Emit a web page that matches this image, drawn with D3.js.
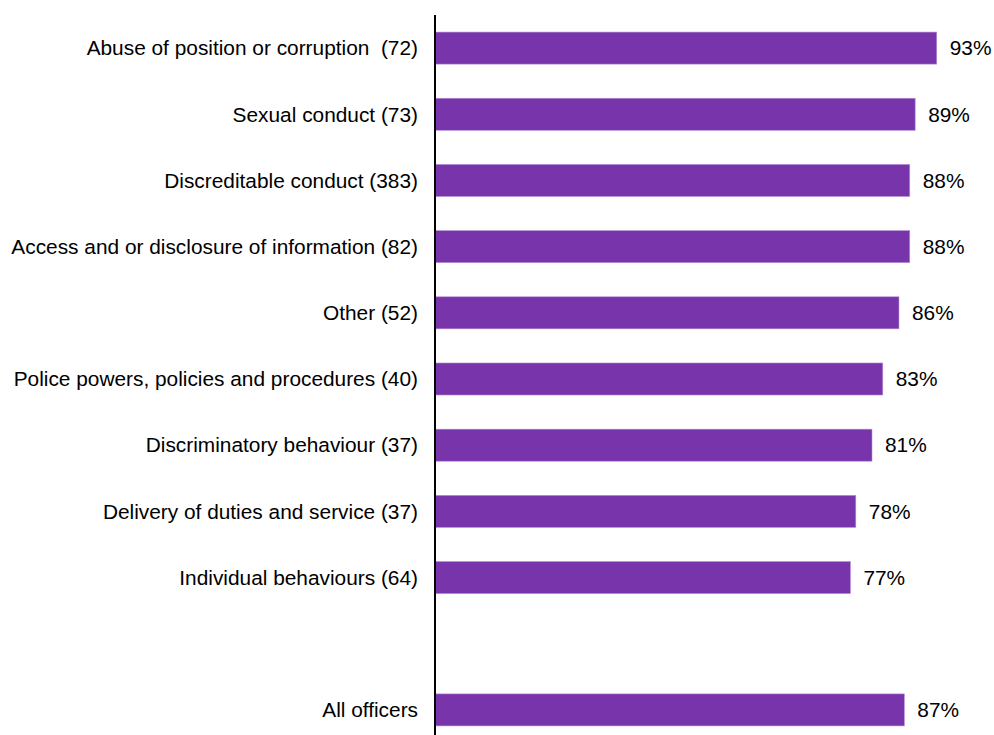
<!DOCTYPE html>
<html>
<head>
<meta charset="utf-8">
<script src="https://cdn.jsdelivr.net/npm/d3@7"></script>
<style>
  html, body { margin: 0; padding: 0; background: #fff; }
  svg { display: block; }
  text { font-family: "Liberation Sans", Arial, sans-serif; fill: #000; }
</style>
</head>
<body>
<svg id="chart" width="994" height="735"></svg>
<script>
// Share of officers by allegation type (count of officers in brackets)
const categories = [
  "Abuse of position or corruption  (72)",
  "Sexual conduct (73)",
  "Discreditable conduct (383)",
  "Access and or disclosure of information (82)",
  "Other (52)",
  "Police powers, policies and procedures (40)",
  "Discriminatory behaviour (37)",
  "Delivery of duties and service (37)",
  "Individual behaviours (64)",
  "",
  "All officers"
];
const values = [93, 89, 88, 88, 86, 83, 81, 78, 77, null, 87];
const valueLabels = ["93%", "89%", "88%", "88%", "86%", "83%", "81%", "78%", "77%", "", "87%"];

const svg = d3.select("#chart");
const axisX = 435;
const fontSize = 20.85;

const rows = categories.map((c, i) => ({ key: "r" + i, label: c, value: values[i], text: valueLabels[i] }));

const x = d3.scaleLinear().domain([0, 100]).range([axisX, axisX + 539.5]);
const y = d3.scaleBand()
  .domain(rows.map(d => d.key))
  .range([15, 743])
  .paddingInner(0.516)
  .paddingOuter(0.258);

const data = rows.filter(d => d.value !== null);

// bars
svg.append("g").selectAll("rect")
  .data(data)
  .join("rect")
  .attr("x", x(0))
  .attr("y", d => y(d.key))
  .attr("width", d => x(d.value) - x(0))
  .attr("height", y.bandwidth())
  .attr("fill", "#7834AA")
  .attr("stroke", "#b58fd4")
  .attr("stroke-width", 0.6);

// value labels
svg.append("g").selectAll("text")
  .data(data)
  .join("text")
  .attr("x", d => x(d.value) + 13)
  .attr("y", d => y(d.key) + y.bandwidth() / 2)
  .attr("dy", "0.35em")
  .style("font-size", fontSize + "px")
  .text(d => d.text);

// category labels
svg.append("g").selectAll("text")
  .data(rows.filter(d => d.label))
  .join("text")
  .attr("x", axisX - 17)
  .attr("y", d => y(d.key) + y.bandwidth() / 2)
  .attr("dy", "0.35em")
  .attr("text-anchor", "end")
  .attr("xml:space", "preserve")
  .style("white-space", "pre")
  .style("font-size", fontSize + "px")
  .text(d => d.label);

// vertical category axis line
svg.append("line")
  .attr("x1", axisX).attr("x2", axisX)
  .attr("y1", 15).attr("y2", 735)
  .attr("stroke", "#000")
  .attr("stroke-width", 2);
</script>
</body>
</html>
